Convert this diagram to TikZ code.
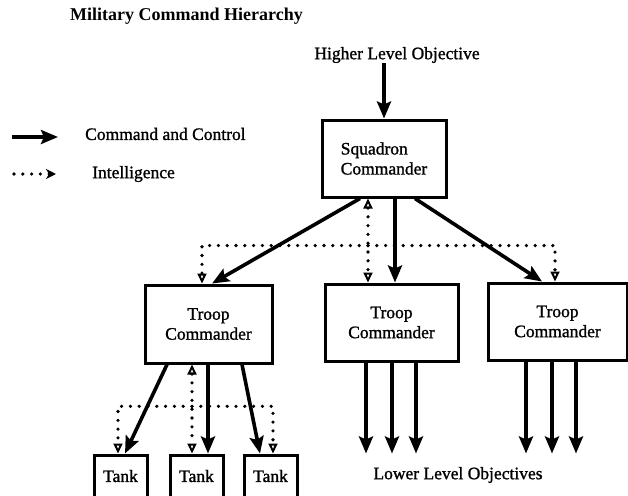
\documentclass[tikz,border=0pt]{standalone}
\usepackage{fontspec}
\setmainfont{Liberation Serif}
\newfontfamily\heavy{Liberation Serif}[FakeBold=1.2]
\usetikzlibrary{arrows.meta,calc}
\tikzset{itip/.tip={Triangle[open,length=10pt,width=9pt,line width=2pt]}}
\begin{document}
\begin{tikzpicture}[x=1pt,y=-1pt,
  box/.style={draw,line width=3pt,inner sep=0pt,font=\heavy\fontsize{17.5}{20}\selectfont},
  lbl/.style={inner sep=0pt,font=\heavy\fontsize{17.5}{19}\selectfont},
  cmd/.style={line width=3.6pt,-{Stealth[length=17pt,width=14pt,inset=3pt]}},
  intel/.style={line width=3.6pt,line cap=round,dash pattern=on 0pt off 8.8pt},
]
\useasboundingbox (0,0) rectangle (628,495);
\clip (0,0) rectangle (628,495);
% title and legend
\node[lbl,anchor=west,font=\fontsize{18}{20}\selectfont\bfseries] (title) at (70,16) {Military Command Hierarchy};
\node[lbl,anchor=west] (lcc) at (85,134) {Command and Control};
\node[lbl,anchor=west] (lint) at (92,174) {Intelligence};
\coordinate (lca) at (12,137);
\coordinate (lcb) at (58,137);
\coordinate (lia) at (14,174);
\coordinate (lib) at (56,174);
\draw[cmd] (lca) -- (lcb);
\draw[intel,-{Triangle[length=10pt,width=10pt,inset=3pt]}] (lia) -- (lib);
% nodes
\node[lbl] (hlo) at (397,55) {Higher Level Objective};
\node[box,minimum width=124pt,minimum height=77pt,align=left] (sq) at (384,158.5) {Squadron\\Commander};
\node[box,minimum width=127pt,minimum height=78pt,align=center] (t1) at (208.5,324) {\raisebox{3pt}{}Troop\\Commander};
\node[box,minimum width=133pt,minimum height=77pt,align=center] (t2) at (391.5,322.5) {Troop\\Commander};
\node[box,minimum width=139pt,minimum height=77pt,align=center] (t3) at (557.5,321.5) {Troop\\Commander};
\node[box,minimum width=53pt,minimum height=42pt] (k1) at (120.5,476) {Tank};
\node[box,minimum width=53pt,minimum height=42pt] (k2) at (196.5,476) {Tank};
\node[box,minimum width=53pt,minimum height=42pt] (k3) at (270.5,476) {Tank};
\node[lbl] (llo) at (458,475) {Lower Level Objectives};
% command and control
\draw[cmd] (hlo.south -| sq.north) -- (sq.north);
\draw[cmd] ([xshift=-24pt]sq.south) -- ([xshift=3.5pt]t1.north);
\draw[cmd] ([xshift=11pt]sq.south) -- ([xshift=11pt]sq.south |- t2.north);
\draw[cmd] ([xshift=31pt]sq.south) -- ([xshift=-15.5pt]t3.north);
\draw[cmd] ([xshift=-41.5pt]t1.south) -- ([xshift=4.5pt]k1.north);
\draw[cmd] ([xshift=-0.5pt]t1.south) -- ([xshift=-0.5pt]t1.south |- k2.north);
\draw[cmd] ([xshift=33.5pt]t1.south) -- ([xshift=-10.5pt]k3.north);
\foreach \dx in {-25.5,0.5,24.5}{
  \draw[cmd] ([xshift=\dx pt]t2.south) -- ++(0,91);
}
\foreach \dx in {-31.5,-5.5,18.5}{
  \draw[cmd] ([xshift=\dx pt]t3.south) -- ++(0,92);
}
% intelligence
\draw[intel,itip-itip] ([xshift=-16pt]sq.south) -- ([xshift=-16pt]sq.south |- t2.north);
\coordinate (hub1) at ($([xshift=-16pt]sq.south)!0.56!([xshift=-16pt]sq.south |- t2.north)$);
\draw[intel,-itip] (hub1) -| ([xshift=-6.5pt]t1.north);
\draw[intel,-itip] (hub1) -| ([xshift=-2.5pt]t3.north);
\draw[intel,itip-itip] ([xshift=-16.5pt]t1.south) -- ([xshift=-16.5pt]t1.south |- k2.north);
\coordinate (hub2) at ($([xshift=-16.5pt]t1.south)!0.47!([xshift=-16.5pt]t1.south |- k2.north)$);
\draw[intel,-itip] (hub2) -| ([xshift=-2.5pt]k1.north);
\draw[intel,-itip] (hub2) -| ([xshift=2.5pt]k3.north);
\end{tikzpicture}
\end{document}
